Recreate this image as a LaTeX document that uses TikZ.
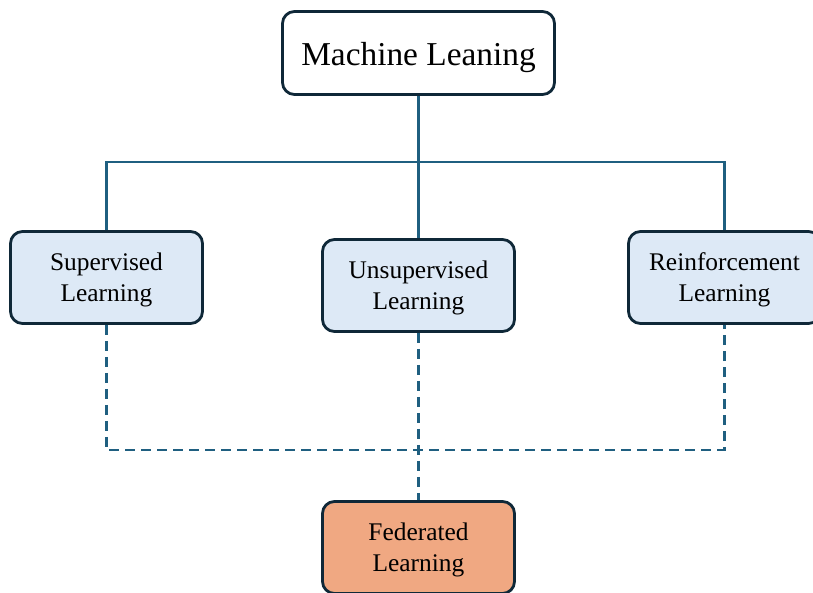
\documentclass[tikz,border=0pt]{standalone}
\usepackage{fontspec}
\setmainfont{Liberation Serif}
\definecolor{conncol}{HTML}{1F5F80}
\definecolor{bordcol}{HTML}{0F2838}
\definecolor{bluefill}{HTML}{DDE9F6}
\definecolor{orangefill}{HTML}{F0A882}
\newcommand{\dn}[2]{\raisebox{-#1}[\height][\depth]{#2}}
\begin{document}
\begin{tikzpicture}[x=1bp,y=-1bp,
  box/.style={draw=bordcol,line width=2.8bp,rounded corners=12bp,align=center,
    minimum width=192bp,minimum height=92bp,inner sep=0pt,
    font=\fontsize{25.5}{31.5}\selectfont},
  conn/.style={draw=conncol,line width=2.6bp},
  dconn/.style={conn,dash pattern=on 10bp off 6bp}]
\useasboundingbox (0,0) rectangle (813,593);
\node[box,fill=white,minimum width=272bp,minimum height=83bp,
  font=\fontsize{33.5}{40}\selectfont] (ml) at (418.5,53) {\dn{5bp}{Machine Leaning}};
\node[box,fill=bluefill] (sl) at (106.5,277.5) {\dn{2.5bp}{Supervised}\\\dn{2.5bp}{Learning}};
\node[box,fill=bluefill] (ul) at (418.5,285.5) {\dn{2.5bp}{Unsupervised}\\\dn{2.5bp}{Learning}};
\node[box,fill=bluefill] (rl) at (724.5,277.5) {\dn{2.5bp}{Reinforcement}\\\dn{2.5bp}{Learning}};
\node[box,fill=orangefill] (fl) at (418.5,547.5) {\dn{2.5bp}{Federated}\\\dn{2.5bp}{Learning}};
\coordinate (bus) at (418.5,162);
\coordinate (dbus) at (418.5,450);
\draw[conn] (ml.south) -- (bus);
\draw[conn] (sl.north) -- (sl.north |- bus) -- (rl.north |- bus) -- (rl.north);
\draw[conn] (bus) -- (ul.north);
\draw[dconn] (sl.south) -- (sl.south |- dbus) -- (rl.south |- dbus) -- (rl.south);
\draw[dconn] (ul.south) -- (fl.north);
\end{tikzpicture}
\end{document}
